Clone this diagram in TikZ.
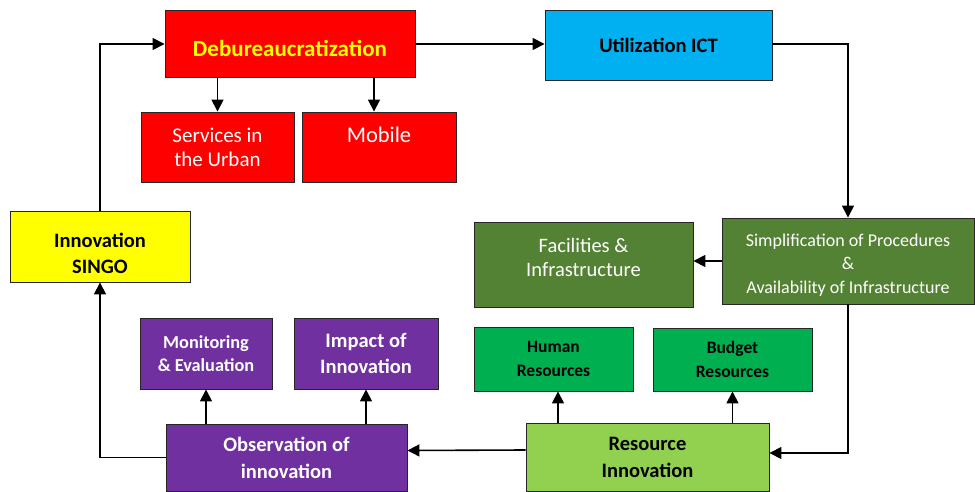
\documentclass[tikz,border=0pt]{standalone}
\usepackage{fontspec}
\setmainfont{Carlito}
\usetikzlibrary{arrows.meta,positioning}
\usepackage{xcolor}
\definecolor{debred}{HTML}{FF0000}
\definecolor{ictblue}{HTML}{00B0F0}
\definecolor{olivegreen}{HTML}{548235}
\definecolor{resgreen}{HTML}{00B050}
\definecolor{lightgreen}{HTML}{92D050}
\definecolor{obspurple}{HTML}{7030A0}
\definecolor{singoyellow}{HTML}{FFFF00}

\begin{document}
\begin{tikzpicture}[x=1pt,y=-1pt,
  box/.style={draw=black!85,line width=0.9pt,rectangle,align=center,inner sep=2pt},
  boxtext/.style={align=center,inner sep=0pt},
  flow/.style={line width=1.6pt,-{Triangle[length=12pt,width=12pt]}}]
  \useasboundingbox (0,0) rectangle (975,492);

  % top row
  \node[box,fill=debred,minimum width=250,minimum height=67,
    label={[boxtext,text=singoyellow,font=\fontsize{23}{26}\selectfont\bfseries,yshift=-4.5pt]center:Debureaucratization}]
    (deb) at (290,44) {};
  \node[box,fill=debred,text=white,font=\fontsize{21}{24}\selectfont,
    minimum width=153,minimum height=70] (urban) at (217.5,147) {Services in\\the Urban};
  \node[box,fill=debred,minimum width=154,minimum height=70,
    label={[boxtext,text=white,font=\fontsize{22.5}{24}\selectfont,yshift=12pt]center:Mobile}]
    (mobile) at (379,147) {};
  \node[box,fill=ictblue,font=\fontsize{20.5}{24}\selectfont\bfseries,
    minimum width=227,minimum height=70] (ict) at (658.5,45) {Utilization ICT};

  % green part
  \node[box,fill=olivegreen,minimum width=252,minimum height=86,
    label={[boxtext,text=white,font=\fontsize{18}{23.5}\selectfont,yshift=-4pt]center:Simplification of Procedures\\\&\\Availability of Infrastructure}]
    (simp) at (848,261) {};
  \node[box,fill=olivegreen,minimum width=219,minimum height=85,
    label={[boxtext,text=white,font=\fontsize{20.5}{24}\selectfont,yshift=7pt]center:Facilities \&\\Infrastructure}]
    (fac) at (583.5,264.5) {};
  \node[box,fill=resgreen,font=\fontsize{17.5}{24}\selectfont\bfseries,
    minimum width=159,minimum height=64] (human) at (553.5,359) {Human\\Resources};
  \node[box,fill=resgreen,font=\fontsize{17.5}{24}\selectfont\bfseries,
    minimum width=159,minimum height=63] (budget) at (732.5,359.5) {Budget\\Resources};
  \node[box,fill=lightgreen,font=\fontsize{20.5}{27}\selectfont\bfseries,
    minimum width=243,minimum height=68] (resinno) at (647.5,457) {Resource\\Innovation};

  % left and purple part
  \node[box,fill=singoyellow,minimum width=180,minimum height=71,
    label={[boxtext,font=\fontsize{20.5}{26}\selectfont\bfseries,yshift=-6.5pt]center:Innovation\\SINGO}]
    (singo) at (100,246.5) {};
  \node[box,fill=obspurple,text=white,font=\fontsize{18.3}{23}\selectfont\bfseries,
    minimum width=132,minimum height=71] (monit) at (206,353.5) {Monitoring\\\& Evaluation};
  \node[box,fill=obspurple,text=white,font=\fontsize{20.5}{26}\selectfont\bfseries,
    minimum width=144,minimum height=71] (impact) at (366,353.5) {Impact of\\Innovation};
  \node[box,fill=obspurple,text=white,font=\fontsize{20.5}{27}\selectfont\bfseries,
    minimum width=241,minimum height=67] (obs) at (286.5,457.5) {Observation of\\innovation};

  % connectors
  \draw[flow] (deb.east) -- (deb.east -| ict.west);
  \draw[flow] (deb.south -| urban.north) -- (urban.north);
  \draw[flow] (deb.south -| 374,0) -- (mobile.north -| 374,0);
  \draw[flow] (ict.east |- deb.east) -| (simp.north);
  \draw[flow] (simp.west) -- (simp.west -| fac.east);
  \draw[flow] (simp.south) |- ([yshift=4pt]resinno.east);
  \draw[flow] (resinno.north -| 558,0) -- (human.south -| 558,0);
  \draw[flow] (resinno.north -| budget.south) -- (budget.south);
  \draw[flow] ([yshift=7pt]resinno.west) -- ([yshift=7pt]obs.east);
  \draw[flow] (obs.north -| monit.south) -- (monit.south);
  \draw[flow] (obs.north -| impact.south) -- (impact.south);
  \draw[flow] (obs.west) -| (singo.south);
  \draw[flow] (singo.north) |- (deb.west);
\end{tikzpicture}
\end{document}
